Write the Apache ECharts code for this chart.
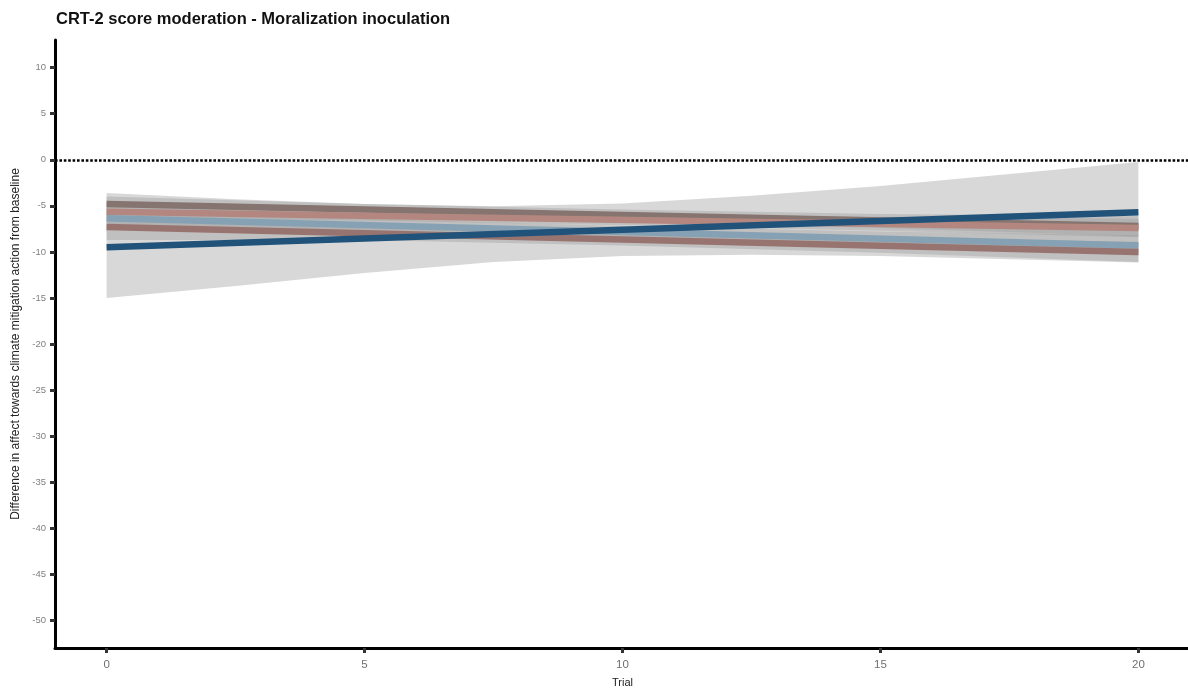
<!DOCTYPE html>
<html>
<head>
<meta charset="utf-8">
<script src="https://cdn.jsdelivr.net/npm/echarts@6/dist/echarts.min.js"></script>
<style>
  html, body { margin: 0; padding: 0; background: #ffffff; }
  #chart { width: 1188px; height: 689px; }
</style>
</head>
<body>
<div id="chart"></div>
<script>
// Axis ticks
const xTicks = [0, 5, 10, 15, 20];
const yTicks = [-50, -45, -40, -35, -30, -25, -20, -15, -10, -5, 0, 5, 10];

// Fitted lines: trial -> predicted difference (straight lines, endpoints)
const trials = [0, 20];
const lineGreyBrown = [-4.8, -7.2];
const linePink = [-5.65, -7.4];
const lineLightBlue = [-6.35, -9.3];
const lineBrown = [-7.3, -10.0];
const lineDarkBlue = [-9.5, -5.7];

// Confidence ribbons of the four narrower fits, sampled at these trials
const ribbonTrials = [0, 5, 10, 15, 20];
const greyBrownUpper = [-4.0, -4.8, -5.4, -5.9, -6.1];
const greyBrownLower = [-5.6, -6.0, -6.6, -7.4, -8.3];
const pinkUpper = [-4.9, -5.5, -5.9, -6.2, -6.4];
const pinkLower = [-6.4, -6.6, -7.1, -7.7, -8.4];
const lightBlueUpper = [-5.5, -6.4, -7.2, -7.8, -8.2];
const lightBlueLower = [-7.2, -7.7, -8.4, -9.3, -10.4];
const brownUpper = [-6.4, -7.3, -8.0, -8.5, -8.9];
const brownLower = [-8.7, -8.7, -9.3, -10.1, -11.1];

// Wide confidence ribbon of the dark blue fit
const wideTrials = [0, 2.5, 5, 7.5, 10, 12.5, 15, 17.5, 20];
const darkBlueUpper = [-3.6, -4.3, -4.8, -5.05, -4.75, -3.9, -2.85, -1.55, -0.25];
const darkBlueLower = [-15.0, -13.7, -12.3, -11.1, -10.45, -10.3, -10.45, -10.8, -11.15];

const FONT = '"Liberation Sans", Arial, Helvetica, sans-serif';

function ribbonSeries(xs, upper, lower) {
  const data = xs.map((t, i) => [t, lower[i], upper[i]]);
  return {
    type: 'custom',
    silent: true,
    z: 1,
    data: data,
    encode: { x: 0, y: [1, 2] },
    renderItem: function (params, api) {
      if (params.dataIndex !== 0) return null;
      const top = data.map(d => api.coord([d[0], d[2]]));
      const bottom = data.slice().reverse().map(d => api.coord([d[0], d[1]]));
      return {
        type: 'polygon',
        shape: { points: top.concat(bottom), smooth: 0 },
        style: { fill: 'rgba(153,153,153,0.38)', stroke: null }
      };
    }
  };
}

function lineSeries(values, color, z) {
  return {
    type: 'line',
    data: trials.map((t, i) => [t, values[i]]),
    showSymbol: false,
    silent: true,
    z: z,
    lineStyle: { color: color, width: 6.5, cap: 'butt' }
  };
}

const chart = echarts.init(document.getElementById('chart'), null, { renderer: 'canvas' });

chart.setOption({
  animation: false,
  backgroundColor: '#ffffff',
  title: {
    text: 'CRT-2 score moderation - Moralization inoculation',
    left: 51,
    top: 6,
    textStyle: { fontFamily: FONT, fontSize: 16.5, fontWeight: 'bold', color: '#111111' }
  },
  grid: { left: 55, right: -2, top: 40, bottom: 41, containLabel: false, outerBoundsMode: 'none' },
  xAxis: {
    type: 'value',
    min: -1,
    max: 21,
    name: 'Trial',
    nameLocation: 'middle',
    nameGap: 29,
    nameTextStyle: { fontFamily: FONT, fontSize: 11, color: '#222222' },
    axisLine: { show: true, onZero: false, lineStyle: { color: '#000000', width: 3 } },
    axisTick: { show: true, length: 5, customValues: xTicks, lineStyle: { color: '#333333', width: 3 } },
    axisLabel: { customValues: xTicks, fontFamily: FONT, fontSize: 11.5, color: '#707070', margin: 11 },
    splitLine: { show: false }
  },
  yAxis: {
    type: 'value',
    min: -53,
    max: 13,
    name: 'Difference in affect towards climate mitigation action from baseline',
    nameLocation: 'middle',
    nameGap: 27,
    nameTextStyle: { fontFamily: FONT, fontSize: 12, color: '#222222' },
    axisLine: { show: true, onZero: false, lineStyle: { color: '#000000', width: 3 } },
    axisTick: { show: true, length: 5, customValues: yTicks, lineStyle: { color: '#333333', width: 3 } },
    axisLabel: { customValues: yTicks, fontFamily: FONT, fontSize: 9.5, color: '#808080', margin: 9 },
    splitLine: { show: false }
  },
  series: [
    ribbonSeries(wideTrials, darkBlueUpper, darkBlueLower),
    ribbonSeries(ribbonTrials, greyBrownUpper, greyBrownLower),
    ribbonSeries(ribbonTrials, pinkUpper, pinkLower),
    ribbonSeries(ribbonTrials, lightBlueUpper, lightBlueLower),
    ribbonSeries(ribbonTrials, brownUpper, brownLower),
    lineSeries(lineGreyBrown, '#85746f', 3),
    lineSeries(linePink, '#b3877f', 4),
    lineSeries(lineLightBlue, '#86a1b3', 5),
    lineSeries(lineBrown, '#987470', 6),
    Object.assign(lineSeries(lineDarkBlue, '#21527a', 7), {
      markLine: {
        silent: true,
        symbol: 'none',
        label: { show: false },
        lineStyle: { color: '#000000', width: 2.6, type: [2.6, 1.8] },
        data: [{ yAxis: 0 }]
      }
    })
  ]
});
</script>
</body>
</html>
